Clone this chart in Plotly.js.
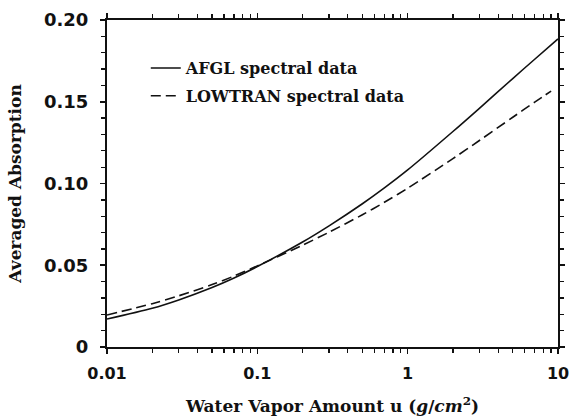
<!DOCTYPE html>
<html>
<head>
<meta charset="utf-8">
<script src="https://cdn.plot.ly/plotly-3.0.1.min.js"></script>
<style>html,body{margin:0;padding:0;background:#fff;}#chart{width:569px;height:416px;}</style>
</head>
<body>
<div id="chart"></div>
<script>
// Water vapor amount u (g/cm^2)
const waterVapor = [0.01, 0.02, 0.03, 0.05, 0.07, 0.1, 0.2, 0.3, 0.5, 0.7, 1, 2, 3, 5, 7, 10];
// Averaged absorption, AFGL spectral data
const afgl = [0.0171, 0.0237, 0.0288, 0.0364, 0.0422, 0.0492, 0.0642, 0.0741, 0.0876, 0.0973, 0.1083, 0.1318, 0.1460, 0.1642, 0.1760, 0.1884];
// Water vapor amount for the LOWTRAN curve (ends just short of 10)
const waterVaporLowtran = [0.01, 0.02, 0.03, 0.05, 0.07, 0.1, 0.2, 0.3, 0.5, 0.7, 1, 2, 3, 5, 7, 9];
// Averaged absorption, LOWTRAN spectral data
const lowtran = [0.0196, 0.0265, 0.0313, 0.0382, 0.0434, 0.0496, 0.0623, 0.0702, 0.0809, 0.0885, 0.0971, 0.1152, 0.1263, 0.1405, 0.1498, 0.1565];

const xTickVals = [0.01, 0.1, 1, 10];
const xTickText = ['0.01', '0.1', '1', '10'];
const xMinorVals = [0.02, 0.03, 0.04, 0.05, 0.06, 0.07, 0.08, 0.09,
                    0.2, 0.3, 0.4, 0.5, 0.6, 0.7, 0.8, 0.9,
                    2, 3, 4, 5, 6, 7, 8, 9];
const yTickVals = [0, 0.05, 0.10, 0.15, 0.20];
const yTickText = ['0', '0.05', '0.10', '0.15', '0.20'];
const yMinorVals = [0.01, 0.02, 0.03, 0.04, 0.06, 0.07, 0.08, 0.09,
                    0.11, 0.12, 0.13, 0.14, 0.16, 0.17, 0.18, 0.19];

const serif = '"DejaVu Serif", "Liberation Serif", serif';
const sans = '"DejaVu Sans", sans-serif';
const ink = '#111';

const traces = [
  {x: waterVapor, y: afgl, mode: 'lines', name: 'AFGL spectral data', legendgroup: 'a',
   line: {color: ink, width: 1.6, shape: 'spline', smoothing: 0.8}},
  {x: waterVaporLowtran, y: lowtran, mode: 'lines', name: 'LOWTRAN spectral data', legendgroup: 'b',
   line: {color: ink, width: 1.6, dash: '10px,5px', shape: 'spline', smoothing: 0.8}}
];

const layout = {
  width: 569, height: 416,
  margin: {l: 107, r: 11, t: 20, b: 69},
  paper_bgcolor: '#fff', plot_bgcolor: '#fff',
  showlegend: true,
  legend: {x: 0.086, y: 0.905, xanchor: 'left', yanchor: 'top',
           font: {family: serif, size: 16, weight: 'bold', color: ink},
           bgcolor: 'rgba(0,0,0,0)', tracegroupgap: 4},
  xaxis: {type: 'log', range: [-2, 1], tickvals: xTickVals, ticktext: xTickText,
          showline: true, linecolor: ink, linewidth: 2, mirror: 'ticks',
          ticks: 'outside', ticklen: 5, tickwidth: 1.6, tickcolor: ink,
          minor: {tickmode: 'array', tickvals: xMinorVals, ticks: 'outside', ticklen: 4,
                  tickcolor: ink, tickwidth: 1.3},
          showgrid: false, zeroline: false, ticklabelstandoff: 6, ticklabeloverflow: 'allow',
          tickfont: {family: sans, size: 16, weight: 'bold', color: ink},
          title: {text: 'Water Vapor Amount u (<i>g</i>/<i>cm</i><sup>2</sup>)', standoff: 21,
                  font: {family: serif, size: 17, weight: 'bold', color: ink}}},
  yaxis: {range: [0, 0.2], tickvals: yTickVals, ticktext: yTickText,
          showline: true, linecolor: ink, linewidth: 2, mirror: 'ticks',
          ticks: 'outside', ticklen: 5, tickwidth: 1.6, tickcolor: ink,
          minor: {tickmode: 'array', tickvals: yMinorVals, ticks: 'outside', ticklen: 4,
                  tickcolor: ink, tickwidth: 1.3},
          showgrid: false, zeroline: false, ticklabelstandoff: 8, ticklabeloverflow: 'allow',
          tickfont: {family: sans, size: 18, weight: 'bold', color: ink},
          title: {text: 'Averaged Absorption', standoff: 18,
                  font: {family: serif, size: 17, weight: 'bold', color: ink}}}
};

Plotly.newPlot('chart', traces, layout, {displayModeBar: false, staticPlot: true});
</script>
</body>
</html>
